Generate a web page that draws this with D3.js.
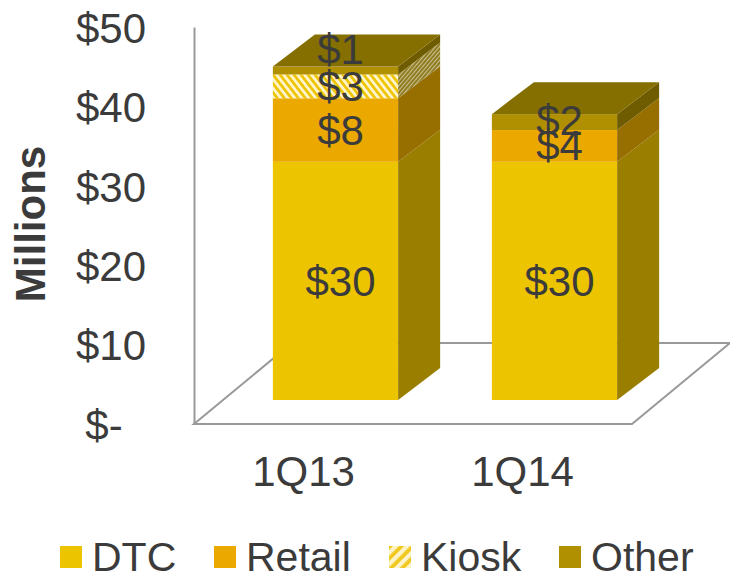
<!DOCTYPE html>
<html>
<head>
<meta charset="utf-8">
<script src="https://cdnjs.cloudflare.com/ajax/libs/d3/7.8.5/d3.min.js"></script>
<style>
  html, body { margin: 0; padding: 0; background: #fff; }
  svg { display: block; }
  text { font-family: "Liberation Sans", Arial, sans-serif; fill: #3b3b3b; }
</style>
</head>
<body>
<svg id="chart" width="730" height="573"></svg>
<script>
// Quarterly revenue by channel, in $ millions
const categories = ["1Q13", "1Q14"];
const seriesNames = ["DTC", "Retail", "Kiosk", "Other"];
const dtc = [30, 30];
const retail = [8, 4];
const kiosk = [3, 0];
const other = [1, 2];
const axisTicks = [0, 10, 20, 30, 40, 50];

const seriesValues = [dtc, retail, kiosk, other];

const svg = d3.select("#chart");
const FONT = 42;

// Oblique projection of the floor and the columns
const plot = { left: 194, right: 632, base: 424, top: 27 };
const floorDepth = { x: 98, y: -81 };
const columnInset = { x: 32, y: -24 };
const columnDepth = { x: 42, y: -32 };

const y = d3.scaleLinear().domain([0, 50]).range([plot.base, plot.top]);
const x = d3.scaleBand().domain(categories).range([plot.left, plot.right])
  .paddingInner(0.428).paddingOuter(0.214);

// Hatch fills for the Kiosk series
const defs = svg.append("defs");
function hatch(id, size, bg, fg, width, angle) {
  const p = defs.append("pattern")
    .attr("id", id).attr("patternUnits", "userSpaceOnUse")
    .attr("width", size).attr("height", size)
    .attr("patternTransform", `rotate(${angle})`);
  p.append("rect").attr("width", size).attr("height", size).attr("fill", bg);
  p.append("rect").attr("width", width).attr("height", size).attr("fill", fg);
}
hatch("kioskFront", 5.5, "#eec400", "#fff4cc", 2.8, -38);
hatch("kioskSide", 3, "#8a7514", "#c8bf90", 1.2, 40);
hatch("kioskKey", 8, "#f0c820", "#fdf3c8", 4.2, 45);

const faces = {
  DTC:    { front: "#edc400", side: "#9a7e00" },
  Retail: { front: "#eba900", side: "#976e00" },
  Kiosk:  { front: "url(#kioskFront)", side: "url(#kioskSide)" },
  Other:  { front: "#b08f00", side: "#6f5c00" }
};
const topFace = "#856f00";
const keyFill = { DTC: "#edc400", Retail: "#eba900", Kiosk: "url(#kioskKey)", Other: "#b08f00" };

// Floor outline
const lineColor = "#999";
const fx0 = plot.left, fx1 = plot.right, fy = plot.base;
svg.append("path")
  .attr("d", `M${fx0},${fy} L${fx0 + floorDepth.x},${fy + floorDepth.y} L${fx1 + floorDepth.x},${fy + floorDepth.y} L${fx1},${fy} Z`)
  .attr("fill", "none").attr("stroke", lineColor).attr("stroke-width", 2);

// Value axis
const yAxis = d3.axisLeft(y)
  .tickValues(axisTicks)
  .tickSize(0)
  .tickPadding(48)
  .tickFormat(d => d === 0 ? "$-\u00a0\u00a0" : "$" + d);
const yG = svg.append("g").attr("transform", `translate(${plot.left},0)`).call(yAxis);
yG.select(".domain").attr("stroke", lineColor).attr("stroke-width", 2);
yG.selectAll("text").attr("font-size", FONT).attr("fill", "#3b3b3b")
  .attr("dy", "0.34em").attr("y", 1)
  .style("white-space", "pre");

// Category axis
const xAxis = d3.axisBottom(x).tickSize(0).tickPadding(32);
const xG = svg.append("g").attr("transform", `translate(0,${plot.base})`).call(xAxis);
xG.select(".domain").remove();
xG.selectAll("text").attr("font-size", FONT).attr("fill", "#3b3b3b");

// Axis title
svg.append("text")
  .attr("transform", "translate(45,224) rotate(-90)")
  .attr("text-anchor", "middle")
  .attr("font-size", FONT).attr("font-weight", "bold")
  .text("Millions");

// Stacked columns
const px = c => x(c) + columnInset.x;
const py = v => y(v) + columnInset.y;
const w = x.bandwidth();
const dx = columnDepth.x, dy = columnDepth.y;

const labelLift = { "1Q13|Other": 21, "1Q14|Other": 2, "1Q14|Retail": 1 };

categories.forEach((c, ci) => {
  const g = svg.append("g");
  let cum = 0;
  const labels = [];
  seriesNames.forEach((name, si) => {
    const v = seriesValues[si][ci];
    if (!v) return;
    const y0 = py(cum), y1 = py(cum + v);
    const left = px(c), right = left + w;
    g.append("rect")
      .attr("x", left).attr("y", y1).attr("width", w).attr("height", y0 - y1)
      .attr("fill", faces[name].front);
    g.append("path")
      .attr("d", `M${right},${y0} L${right + dx},${y0 + dy} L${right + dx},${y1 + dy} L${right},${y1} Z`)
      .attr("fill", faces[name].side);
    labels.push({ name, v, cy: (y0 + y1) / 2 });
    cum += v;
  });
  const t = py(cum), l = px(c);
  g.append("path")
    .attr("d", `M${l},${t} L${l + dx},${t + dy} L${l + w + dx},${t + dy} L${l + w},${t} Z`)
    .attr("fill", topFace);

  labels.forEach(d => {
    svg.append("text")
      .attr("x", l + w / 2 + 5)
      .attr("y", d.cy - (labelLift[`${c}|${d.name}`] || 0))
      .attr("dy", "0.35em")
      .attr("text-anchor", "middle")
      .attr("font-size", FONT)
      .text("$" + d.v);
  });
});

// Legend
const keyX = d3.scaleOrdinal().domain(seriesNames).range([60, 214, 389, 559]);
const legend = svg.append("g");
seriesNames.forEach(name => {
  legend.append("rect")
    .attr("x", keyX(name)).attr("y", 546).attr("width", 22).attr("height", 22)
    .attr("fill", keyFill[name]);
  legend.append("text")
    .attr("x", keyX(name) + 32).attr("y", 571)
    .attr("font-size", 41)
    .text(name);
});
</script>
</body>
</html>
